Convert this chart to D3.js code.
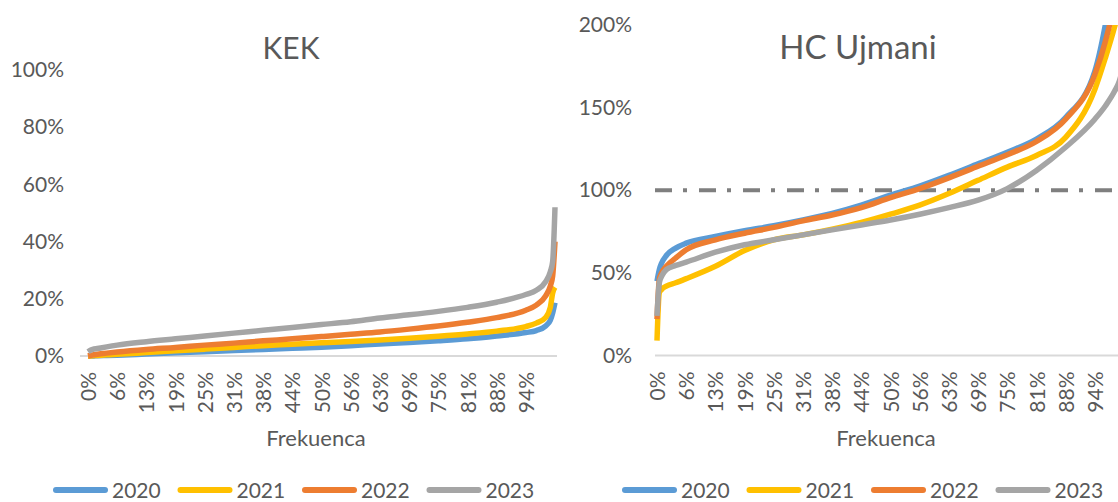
<!DOCTYPE html>
<html><head><meta charset="utf-8">
<script src="https://cdn.jsdelivr.net/npm/d3@7"></script>
<style>html,body{margin:0;padding:0;background:#fff;} svg{display:block;font-family:Lato,"Open Sans",sans-serif;}</style>
</head><body><svg id="c" width="1118" height="502"></svg>
<script>
// ---- data ----
const freq = [0, 0.005, 0.01, 0.02, 0.04, 0.0625, 0.125, 0.1875, 0.25, 0.3125, 0.375, 0.4375, 0.5, 0.5625, 0.625, 0.6875, 0.75, 0.8125, 0.875, 0.9375, 0.96, 0.98, 0.99, 0.995, 1.0];
const xTickValues = [0, 0.0625, 0.125, 0.1875, 0.25, 0.3125, 0.375, 0.4375, 0.5, 0.5625, 0.625, 0.6875, 0.75, 0.8125, 0.875, 0.9375];
const xTickLabels = ["0%","6%","13%","19%","25%","31%","38%","44%","50%","56%","63%","69%","75%","81%","88%","94%"];
const years = ["2020","2021","2022","2023"];
const colors = ["#5B9BD5","#FFC000","#ED7D31","#A5A5A5"];

const kek2020 = [0,0,0,0.1,0.2,0.3,0.7,1.1,1.5,1.9,2.3,2.7,3.1,3.6,4.2,4.7,5.3,6,7,8.2,8.9,10.5,12.5,15,18.6];
const kek2021 = [0,0,0.1,0.2,0.4,0.6,1.2,1.8,2.4,3,3.6,4.1,4.6,5.1,5.6,6.2,6.9,7.7,8.7,10.3,11.5,13.5,17,22,24];
const kek2022 = [0,0.2,0.4,0.6,1,1.4,2.3,3,3.8,4.5,5.3,6,6.8,7.6,8.4,9.4,10.5,11.8,13.4,16,17.8,21,24.5,28,40];
const kek2023 = [1.5,2,2.3,2.6,3.2,3.8,5,6,7,8,9,10,11,12,13.3,14.4,15.6,17,18.8,21.5,23,26,29.5,33,52];

const ujm2020 = [45,52,56,60.5,65,68,72,75.5,78.5,82,86,91,97,102.5,109,116,123,131,144,172,200,235,260,280,300];
const ujm2021 = [9,38,40,42,44,46.5,54,63.5,70,73,76.5,80.5,85.5,91,98,106,114,121,132,161,180,199,210,216,222];
const ujm2022 = [22,46,50,54,59,64,70,74,77.5,81.5,85,89.5,95.5,101,107.5,114.5,121.5,129.5,143,170,190,215,235,250,270];
const ujm2023 = [24,44,48,52,54.5,56.5,62.5,67,70,73,76,79,82,85.5,89.5,94,101,112,126,143,151,160,166,171,178];

const kekTicks = [0,20,40,60,80,100];
const ujmTicks = [0,50,100,150,200];
const ujmRef = 100;

// ---- drawing ----
const svg = d3.select("#c");
svg.append("rect").attr("width",1118).attr("height",502).attr("fill","#fff");
const txt = "#595959";

const panels = [
  {id:"kek", title:"KEK", titleSize:30, titleX:291, x0:88, x1:555, yTop:70, yBot:356, yMax:100, ticks:kekTicks,
   series:[kek2020,kek2021,kek2022,kek2023], labelX:64, baseL:80, baseR:557, legendX:53, axisTitleX:316, ref:null, clipTop:60},
  {id:"ujm", title:"HC Ujmani", titleSize:33, titleX:858, x0:657, x1:1124, yTop:25, yBot:355.5, yMax:200, ticks:ujmTicks,
   series:[ujm2020,ujm2021,ujm2022,ujm2023], labelX:632, baseL:655, baseR:1130, legendX:622, axisTitleX:886, ref:ujmRef, clipTop:25}
];

panels.forEach(p => {
  const x = d3.scaleLinear().domain([0,1]).range([p.x0,p.x1]);
  const y = d3.scaleLinear().domain([0,p.yMax]).range([p.yBot,p.yTop]);
  const g = svg.append("g");

  g.append("text").attr("x",p.titleX).attr("y",59).attr("text-anchor","middle")
    .attr("fill",txt).attr("font-size",p.titleSize).text(p.title);

  const ya = d3.axisLeft(y).tickValues(p.ticks).tickSize(0).tickPadding(0).tickFormat(d => d + "%");
  const yg = g.append("g").attr("transform",`translate(${p.labelX},0)`).call(ya);
  yg.select(".domain").remove();
  yg.selectAll("text").attr("fill",txt).attr("font-size",21).attr("font-family","Lato");

  g.append("line").attr("x1",p.baseL).attr("x2",p.baseR).attr("y1",y(0)).attr("y2",y(0))
    .attr("stroke","#D9D9D9").attr("stroke-width",2);

  const xa = d3.axisBottom(x).tickValues(xTickValues).tickSize(0)
    .tickFormat((d,i) => xTickLabels[i]);
  const xg = g.append("g").attr("transform",`translate(0,${y(0)})`).call(xa);
  xg.select(".domain").remove();
  xg.selectAll("text").attr("fill",txt).attr("font-size",21).attr("font-family","Lato")
    .attr("transform","rotate(-90)").attr("text-anchor","end")
    .attr("x",-16).attr("y",0).attr("dy","0.36em");

  g.append("text").attr("x",p.axisTitleX).attr("y",446).attr("text-anchor","middle")
    .attr("fill",txt).attr("font-size",22).text("Frekuenca");

  const cid = "clip-" + p.id;
  svg.append("clipPath").attr("id",cid).append("rect")
    .attr("x",p.baseL-6).attr("y",p.clipTop).attr("width",p.baseR-p.baseL+12).attr("height",p.yBot-p.clipTop+10);

  if (p.ref !== null) {
    g.append("line").attr("x1",655).attr("x2",1130).attr("y1",y(p.ref)).attr("y2",y(p.ref))
      .attr("stroke","#7F7F7F").attr("stroke-width",4).attr("stroke-dasharray","17,11,4,12");
  }

  const line = d3.line().x((d,i) => x(freq[i])).y(d => y(d)).curve(d3.curveMonotoneX);
  const lg = g.append("g").attr("clip-path",`url(#${cid})`);
  p.series.forEach((s,i) => {
    lg.append("path").datum(s).attr("d",line).attr("fill","none")
      .attr("stroke",colors[i]).attr("stroke-width",5.5).attr("stroke-linejoin","round");
  });

  const leg = g.append("g").attr("transform",`translate(${p.legendX},490)`);
  years.forEach((yr,i) => {
    const it = leg.append("g").attr("transform",`translate(${i*124.5},0)`);
    it.append("line").attr("x1",3).attr("x2",52).attr("y1",0).attr("y2",0)
      .attr("stroke",colors[i]).attr("stroke-width",6).attr("stroke-linecap","round");
    it.append("text").attr("x",59).attr("y",7.5).attr("fill",txt).attr("font-size",21).text(yr);
  });
});
</script>
</body></html>
